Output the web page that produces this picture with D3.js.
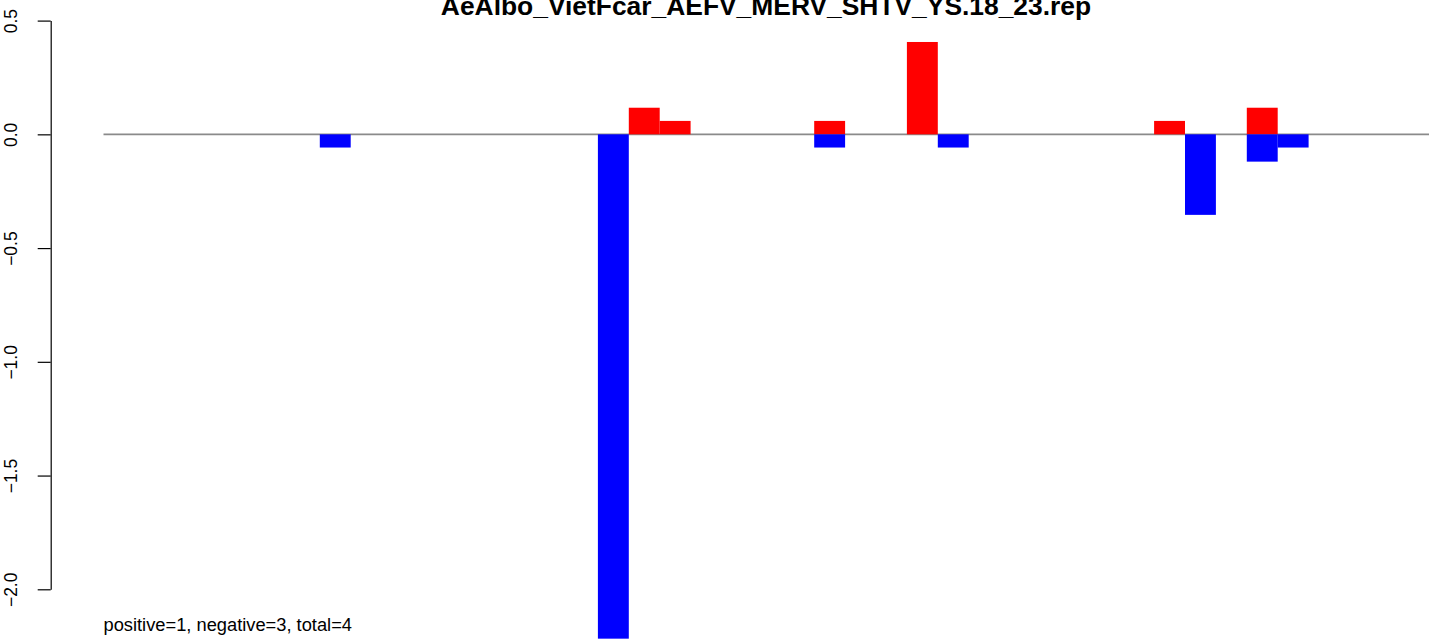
<!DOCTYPE html>
<html>
<head>
<meta charset="utf-8">
<script src="https://cdn.jsdelivr.net/npm/d3@7"></script>
<style>
  html, body { margin: 0; padding: 0; background: #fff; }
  svg { display: block; }
  text { font-family: "Liberation Sans", Arial, Helvetica, sans-serif; }
</style>
</head>
<body>
<script>
// ---- data ----
const title = "AeAlbo_VietFcar_AEFV_MERV_SHTV_YS.18_23.rep";
const footnote = "positive=1, negative=3, total=4";
const nSlots = 43;
const categories = Array.from({length: nSlots}, (_, i) => String(i + 1));
const positiveCats   = ["18", "19", "24", "27", "35", "38"];
const positiveValues = [0.117, 0.059, 0.059, 0.406, 0.059, 0.117];
const negativeCats   = ["8", "17", "24", "28", "36", "38", "39"];
const negativeValues = [-0.058, -2.217, -0.058, -0.058, -0.354, -0.12, -0.058];
const yTicks = [-2.0, -1.5, -1.0, -0.5, 0.0, 0.5];

// ---- layout ----
const W = 1429, H = 643;
const svg = d3.select("body").append("svg").attr("width", W).attr("height", H);

const x = d3.scaleBand().domain(categories).range([103.5, 103.5 + nSlots * 30.9]).paddingInner(0).paddingOuter(0);
const y = d3.scaleLinear().domain([-2, 0.5]).range([589.3, 20.6]);

// zero line
svg.append("line")
  .attr("x1", x.range()[0]).attr("x2", x.range()[1])
  .attr("y1", y(0)).attr("y2", y(0))
  .attr("stroke", "#8a8a8a").attr("stroke-width", 1.6);

const pos = positiveCats.map((c, i) => ({cat: c, v: positiveValues[i]}));
const neg = negativeCats.map((c, i) => ({cat: c, v: negativeValues[i]}));

svg.append("g").selectAll("rect").data(pos).join("rect")
  .attr("x", d => x(d.cat)).attr("width", x.bandwidth())
  .attr("y", d => y(d.v)).attr("height", d => y(0) - y(d.v))
  .attr("fill", "#ff0000");

svg.append("g").selectAll("rect").data(neg).join("rect")
  .attr("x", d => x(d.cat)).attr("width", x.bandwidth())
  .attr("y", d => y(0)).attr("height", d => y(d.v) - y(0))
  .attr("fill", "#0000ff");

// y axis
const fmt = v => d3.format(".1f")(v).replace("-", "\u2212");
const axis = d3.axisLeft(y).tickValues(yTicks).tickSize(13).tickSizeOuter(0).tickFormat(fmt);
const gAxis = svg.append("g").attr("transform", "translate(50.7,0)").call(axis);
gAxis.select(".domain").attr("stroke", "#000").attr("stroke-width", 1.2);
gAxis.selectAll(".tick line").attr("stroke", "#000").attr("stroke-width", 1.2);
gAxis.selectAll(".tick text")
  .attr("x", null).attr("dy", null)
  .attr("transform", "translate(-34,0) rotate(-90)")
  .attr("text-anchor", "middle")
  .attr("font-size", 17.5)
  .attr("font-family", "'Liberation Sans', Arial, sans-serif")
  .attr("fill", "#000");

// title
svg.append("text")
  .attr("x", 766).attr("y", 15)
  .attr("text-anchor", "middle")
  .attr("font-weight", "bold")
  .attr("font-size", 26.4)
  .text(title);

// footnote
svg.append("text")
  .attr("x", 103.5).attr("y", 631)
  .attr("font-size", 18.3)
  .text(footnote);
</script>
</body>
</html>
